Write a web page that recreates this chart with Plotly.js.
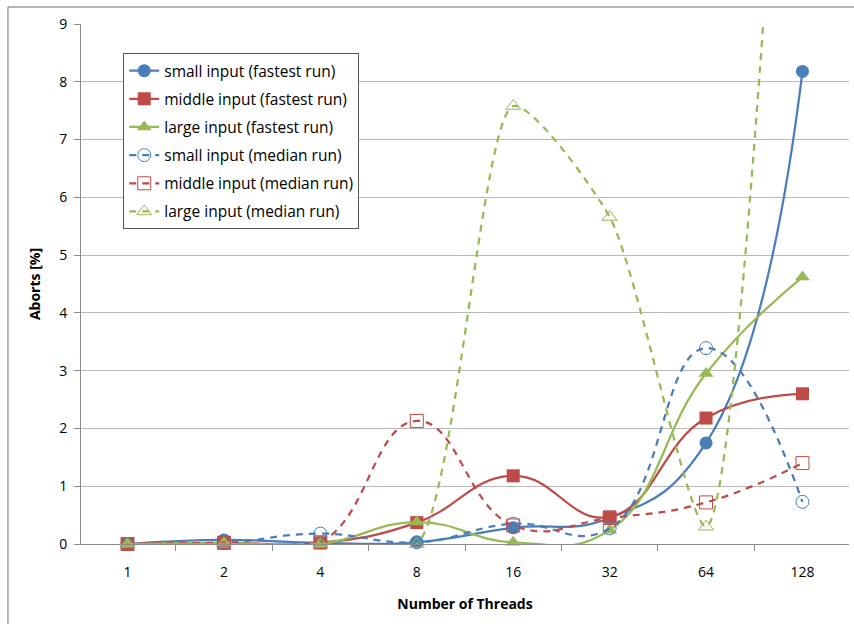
<!DOCTYPE html>
<html>
<head>
<meta charset="utf-8">
<script src="https://cdn.plot.ly/plotly-3.0.1.min.js"></script>
<style>
  html, body { margin: 0; padding: 0; background: #fff; }
  #chart { width: 854px; height: 624px; }
</style>
</head>
<body>
<div id="chart"></div>
<script>
// ---- data ----
var threads = ['1', '2', '4', '8', '16', '32', '64', '128'];

var smallFastest  = [0, 0.07, 0.02, 0.03, 0.28, 0.45, 1.75, 8.18];
var middleFastest = [0, 0.02, 0.02, 0.37, 1.18, 0.47, 2.18, 2.60];
var largeFastest  = [0, 0.02, 0.00, 0.38, 0.03, 0.24, 2.95, 4.62];
var smallMedian   = [0, 0.02, 0.18, 0.03, 0.35, 0.27, 3.39, 0.73];
var middleMedian  = [0, 0.02, 0.03, 2.13, 0.32, 0.45, 0.72, 1.40];
var largeMedian   = [0, 0.00, 0.00, 0.00, 7.58, 5.66, 0.30, 20.0];

var seriesNames = [
  'small input (fastest run)',
  'middle input (fastest run)',
  'large input (fastest run)',
  'small input (median run)',
  'middle input (median run)',
  'large input (median run)'
];

// ---- styles ----
var BLUE = '#4a7ebb', RED = '#be4b48', GREEN = '#98b954';
var FONT = '"Open Sans", Lato, sans-serif';

function solid(name, y, color, symbol, group, sm) {
  return {
    x: threads, y: y, name: name, type: 'scatter', mode: 'lines+markers',
    legendgroup: group, cliponaxis: false,
    line: { color: color, width: 2.25, shape: 'spline', smoothing: sm },
    marker: { color: color, symbol: symbol, size: 13 }
  };
}
function dashed(name, y, color, symbol, group, sm) {
  return {
    x: threads, y: y, name: name, type: 'scatter', mode: 'lines+markers',
    legendgroup: group, cliponaxis: false,
    line: { color: color, width: 2.25, shape: 'spline', smoothing: sm, dash: '7px,6px' },
    marker: { color: color, symbol: symbol, size: 13, line: { color: color, width: 1 } }
  };
}

var data = [
  solid(seriesNames[0], smallFastest, BLUE, 'circle', 'g1', 1.3),
  solid(seriesNames[1], middleFastest, RED, 'square', 'g2', 1.3),
  solid(seriesNames[2], largeFastest, GREEN, 'triangle-up', 'g3', 1.3),
  dashed(seriesNames[3], smallMedian, BLUE, 'circle-open', 'g4', 1.3),
  dashed(seriesNames[4], middleMedian, RED, 'square-open', 'g5', 1.3),
  dashed(seriesNames[5], largeMedian, GREEN, 'triangle-up-open', 'g6', 0.65)
];

var layout = {
  width: 854, height: 624,
  margin: { l: 81, r: 5, t: 24, b: 80 },
  paper_bgcolor: '#fff', plot_bgcolor: '#fff',
  font: { family: FONT, size: 14, color: '#000' },
  showlegend: true,
  legend: {
    x: 0.055, y: 0.944, xanchor: 'left', yanchor: 'top',
    bgcolor: '#fff', bordercolor: '#555', borderwidth: 1,
    font: { family: FONT, size: 15.5, color: '#000' },
    tracegroupgap: 5, traceorder: 'grouped'
  },
  xaxis: {
    type: 'category',
    title: { text: '<b>Number of Threads</b>', font: { family: FONT, size: 14 }, standoff: 19 },
    showline: true, linecolor: '#8c8c8c', linewidth: 1,
    ticks: 'outside', ticklen: 6, tickcolor: '#8c8c8c', tickson: 'boundaries',
    ticklabelstandoff: 15,
    showgrid: false, zeroline: false,
    tickfont: { family: FONT, size: 14 },
    fixedrange: true
  },
  yaxis: {
    range: [0, 9], dtick: 1, tick0: 0,
    title: { text: '<b>Aborts [%]</b>', font: { family: FONT, size: 14 }, standoff: 15 },
    showline: true, linecolor: '#8c8c8c', linewidth: 1,
    ticks: 'outside', ticklen: 6, tickcolor: '#8c8c8c',
    ticklabelstandoff: 4,
    showgrid: true, gridcolor: '#b8b8b8', gridwidth: 1,
    zeroline: false,
    tickfont: { family: FONT, size: 14 },
    fixedrange: true
  },
  shapes: [
    { type: 'line', xref: 'paper', yref: 'paper', x0: -0.0951, x1: 1.01, y0: 1.0327, y1: 1.0327,
      line: { color: '#6e6e6e', width: 1 } },
    { type: 'line', xref: 'paper', yref: 'paper', x0: -0.0951, x1: -0.0951, y0: 1.0327, y1: -0.16,
      line: { color: '#6e6e6e', width: 1 } }
  ]
};

Plotly.newPlot('chart', data, layout, { displayModeBar: false, staticPlot: true });
</script>
</body>
</html>
